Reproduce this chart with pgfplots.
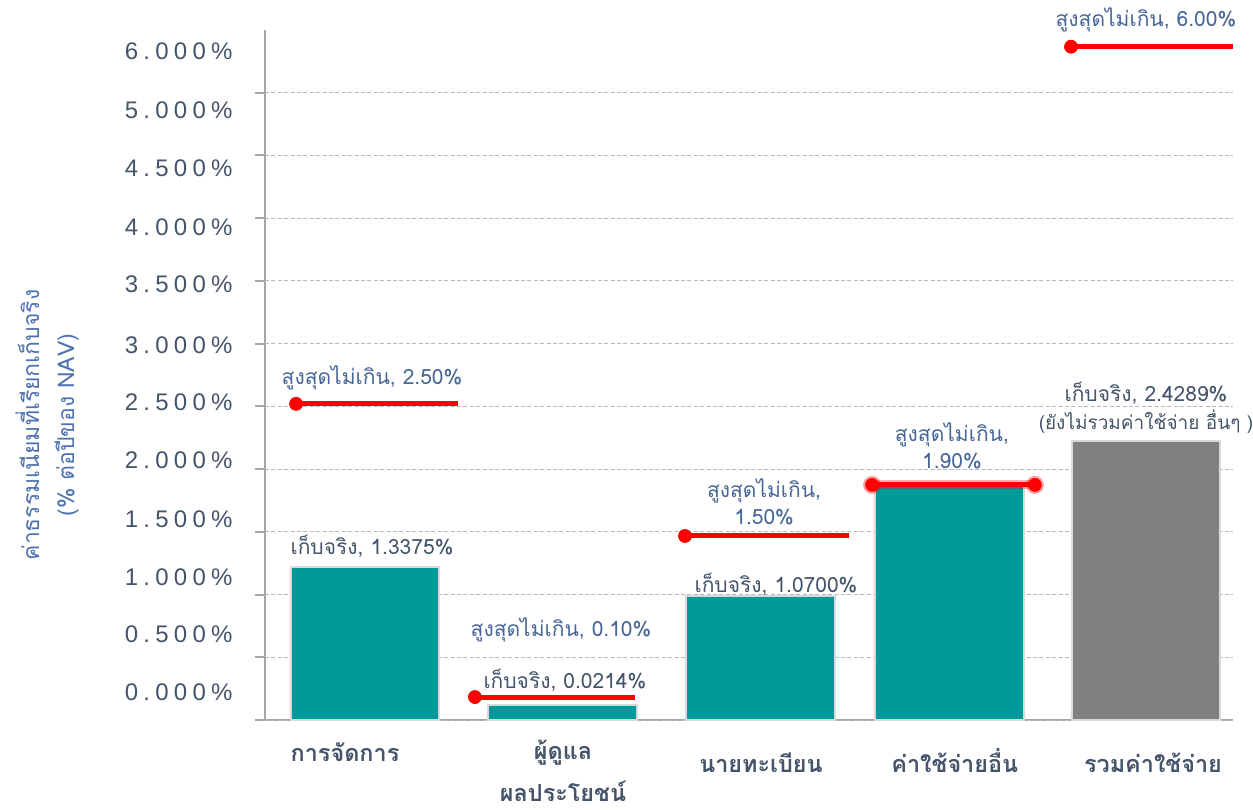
\documentclass[border=0pt]{standalone}
\usepackage{pgfplots}
\pgfplotsset{compat=1.18}
\usepackage{fontspec}
\newfontfamily\thai[Script=Thai]{Loma}
\newfontfamily\tickfont[LetterSpace=22]{Liberation Sans}
\newcommand\twolines[2]{\vtop{\baselineskip=21pt\halign{\hfil##\hfil\cr #1\cr #2\cr}}}
\definecolor{teal1}{RGB}{0,153,153}
\definecolor{barg}{RGB}{128,128,128}
\definecolor{edge}{RGB}{217,217,217}
\definecolor{axisg}{RGB}{166,166,166}
\definecolor{gridg}{RGB}{185,185,185}
\definecolor{tickc}{RGB}{68,84,106}
\definecolor{annb}{RGB}{72,102,150}
\definecolor{annd}{RGB}{68,84,106}
\definecolor{ylab}{RGB}{79,114,176}
\definecolor{redl}{RGB}{255,0,0}
\begin{document}
\begin{tikzpicture}[
  ann/.style={font=\thai\fontsize{10.5}{13.5}\selectfont, text=annb, align=center, inner sep=0pt},
  act/.style={ann, text=annd}]
\path[use as bounding box] (-132.5pt,-44.5pt) rectangle (494pt,360pt);
\begin{axis}[
  at={(0,0)}, anchor=south west,
  scale only axis, width=484pt, height=345pt,
  xmin=-0.5122, xmax=4.4456, ymin=0, ymax=5.5,
  clip=false,
  axis lines*=left,
  axis line style={draw=axisg, line width=1pt, -},
  tick align=outside, major tick length=0pt,
  xtick={0,1.014,2.028,2.995,4},
  xticklabels={{\raisebox{5.5pt}{การจัดการ}\kern20pt},
    {\raisebox{6.5pt}{\twolines{ผู้ดูแล}{ผลประโยชน์}}},
    {นายทะเบียน},
    {\kern5pt ค่าใช้จ่ายอื่น},
    {\kern7pt รวมค่าใช้จ่าย}},
  xtick style={draw=none},
  xticklabel style={font=\thai\bfseries\fontsize{11.7}{14}\selectfont, text=tickc, anchor=base, yshift=-26pt, inner sep=0pt},
  ytick={0.223,0.686,1.14,1.60,2.07,2.53,2.99,3.47,3.93,4.40,4.86,5.33},
  yticklabels={0.000\%,0.500\%,1.000\%,1.500\%,2.000\%,2.500\%,3.000\%,3.500\%,4.000\%,4.500\%,5.000\%,6.000\%},
  ytick style={draw=none},
  yticklabel style={font=\tickfont\fontsize{12}{14}\selectfont, text=tickc, anchor=east, inner sep=0pt, xshift=-16pt},
  extra y ticks={0,0.5,1,1.5,2,2.5,3,3.5,4,4.5,5},
  extra y tick labels={},
  extra y tick style={ymajorgrids=true, ytick style={draw=axisg, line width=1pt}, major tick length=5pt, tick align=outside},
  major grid style={gridg, dash pattern=on 2pt off 1.2pt, line width=0.5pt},
  ylabel={ค่าธรรมเนียมที่เรียกเก็บจริง\\(\% ต่อปีของ NAV)},
  ylabel style={font=\thai\fontsize{11.5}{17.5}\selectfont, text=ylab, align=center, at={(rel axis cs:-0.225,0.4275)}, anchor=center},
]
% bars (visual heights)
\addplot[ybar, bar width=0.763, bar shift=0pt, fill=teal1, draw=edge, line width=1pt]
  coordinates {(0,1.220) (1.014,0.120) (2.028,0.989) (2.995,1.874)};
\addplot[ybar, bar width=0.763, bar shift=0pt, fill=barg, draw=edge, line width=1pt]
  coordinates {(4,2.225)};
% maximum-fee lines
\addplot[redl, line width=2.5pt, mark=*, mark indices={1}, mark size=3.25pt, mark options={line width=0.4pt, fill=redl}]
  coordinates {(-0.353,2.52) (0.476,2.52)};
\addplot[redl, line width=2.5pt, mark=*, mark indices={1}, mark size=3.25pt, mark options={line width=0.4pt, fill=redl}]
  coordinates {(0.563,0.183) (1.383,0.183)};
\addplot[redl, line width=2.5pt, mark=*, mark indices={1}, mark size=3.25pt, mark options={line width=0.4pt, fill=redl}]
  coordinates {(1.639,1.467) (2.479,1.467)};
\addplot[redl, opacity=0.3, line width=4.5pt, mark=*, mark size=4.3pt, mark options={line width=0.4pt, fill=redl}]
  coordinates {(2.597,1.874) (3.431,1.874)};
\addplot[redl, line width=2.5pt, mark=*, mark size=3.25pt, mark options={line width=0.4pt, fill=redl}]
  coordinates {(2.597,1.874) (3.431,1.874)};
\addplot[redl, line width=2.5pt, mark=*, mark indices={1}, mark size=3.25pt, mark options={line width=0.4pt, fill=redl}]
  coordinates {(3.616,5.367) (4.446,5.367)};
% annotations
\node[ann] at (axis cs:0.036,2.727) {สูงสุดไม่เกิน, 2.50\%};
\node[act] at (axis cs:0.036,1.388) {เก็บจริง, 1.3375\%};
\node[ann] at (axis cs:1.004,0.718) {สูงสุดไม่เกิน, 0.10\%};
\node[act] at (axis cs:1.024,0.319) {เก็บจริง, 0.0214\%};
\node[ann] at (axis cs:2.044,1.742) {สูงสุดไม่เกิน,\\1.50\%};
\node[act] at (axis cs:2.105,1.085) {เก็บจริง, 1.0700\%};
\node[ann] at (axis cs:3.006,2.185) {สูงสุดไม่เกิน,\\1.90\%};
\node[act] at (axis cs:4.0,2.608) {เก็บจริง, 2.4289\%};
\node[act, font=\thai\fontsize{9.5}{12}\selectfont] at (axis cs:4.0,2.376) {(ยังไม่รวมค่าใช้จ่าย อื่นๆ )};
\node[ann] at (axis cs:4.0,5.582) {สูงสุดไม่เกิน, 6.00\%};
\end{axis}
\end{tikzpicture}
\end{document}
